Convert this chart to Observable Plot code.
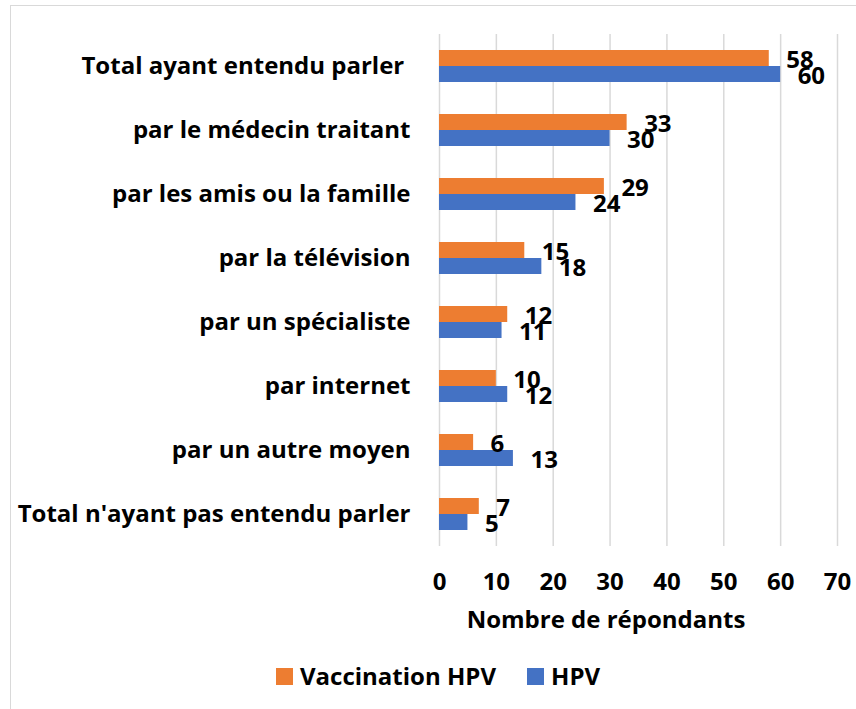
<!DOCTYPE html>
<html>
<head>
<meta charset="utf-8">
<script src="https://cdn.jsdelivr.net/npm/d3@7"></script>
<script src="https://cdn.jsdelivr.net/npm/@observablehq/plot@0.6"></script>
<style>
  html, body { margin: 0; padding: 0; background: #fff; }
  #wrap { position: relative; width: 856px; height: 709px; overflow: hidden; font-family: "Open Sans", Lato, sans-serif; font-weight: bold; color: #000; }
  #frame { position: absolute; left: 10px; top: 5px; width: 860px; height: 720px; border: 1px solid #D9D9D9; box-sizing: border-box; }
  #chart { position: absolute; left: 0; top: 0; }
  #xtitle { position: absolute; top: 607px; left: 406px; width: 400px; text-align: center; font-size: 24px; line-height: 24px; white-space: nowrap; }
  #legend { position: absolute; top: 664px; left: 276px; font-size: 24px; line-height: 24px; white-space: nowrap; display: flex; align-items: center; }
  .sw { display: inline-block; width: 17px; height: 17px; margin-right: 7px; }
  .item { display: inline-flex; align-items: center; margin-right: 31px; }
</style>
</head>
<body>
<div id="wrap">
  <div id="frame"></div>
  <div id="chart"></div>
  <div id="xtitle"></div>
  <div id="legend"></div>
</div>
<script>
const categories = [
  "Total ayant entendu parler\u00a0",
  "par le médecin traitant",
  "par les amis ou la famille",
  "par la télévision",
  "par un spécialiste",
  "par internet",
  "par un autre moyen",
  "Total n'ayant pas entendu parler"
];
const seriesNames = ["Vaccination HPV", "HPV"];
const vaccinationValues = [58, 33, 29, 15, 12, 10, 6, 7];
const hpvValues = [60, 30, 24, 18, 11, 12, 13, 5];
const xTicks = [0, 10, 20, 30, 40, 50, 60, 70];
const colors = ["#ED7D31", "#4472C4"];
const xTitle = "Nombre de répondants";

const data = categories.flatMap((c, i) => [
  {category: c, series: seriesNames[0], value: vaccinationValues[i]},
  {category: c, series: seriesNames[1], value: hpvValues[i]}
]);

const chart = Plot.plot({
  width: 856,
  height: 600,
  marginLeft: 439,
  marginRight: 19,
  marginTop: 30,
  marginBottom: 51,
  style: {fontFamily: "'Open Sans', Lato, sans-serif", fontSize: "24px", fontWeight: "bold", color: "#000", background: "transparent"},
  x: {domain: [0, 70], ticks: xTicks},
  fy: {domain: categories, padding: 0, label: null},
  y: {domain: seriesNames, paddingInner: 0, paddingOuter: 0.94, axis: null},
  color: {domain: seriesNames, range: colors},
  marks: [
    Plot.gridX(xTicks, {stroke: "#D9D9D9", strokeOpacity: 1, strokeWidth: 1.5}),
    Plot.barX(data, {x: "value", y: "series", fy: "category", fill: "series"}),
    Plot.text(data, {x: "value", y: "series", fy: "category", text: d => String(d.value), dx: 17, dy: 2, textAnchor: "start", fill: "#000", fontSize: 24, fontWeight: "bold"}),
    Plot.axisFy({anchor: "left", tickSize: 0, tickPadding: 29, label: null, fontSize: 24, fontWeight: "bold", fill: "#000"}),
    Plot.axisX({ticks: xTicks, tickSize: 0, tickPadding: 26, label: null, fontSize: 24, fontWeight: "bold", fill: "#000"})
  ]
});
document.getElementById("chart").appendChild(chart);
document.getElementById("xtitle").textContent = xTitle;

const legend = document.getElementById("legend");
seriesNames.forEach((s, i) => {
  const item = document.createElement("span");
  item.className = "item";
  const sw = document.createElement("span");
  sw.className = "sw";
  sw.style.background = colors[i];
  item.appendChild(sw);
  item.appendChild(document.createTextNode(s));
  legend.appendChild(item);
});
</script>
</body>
</html>
